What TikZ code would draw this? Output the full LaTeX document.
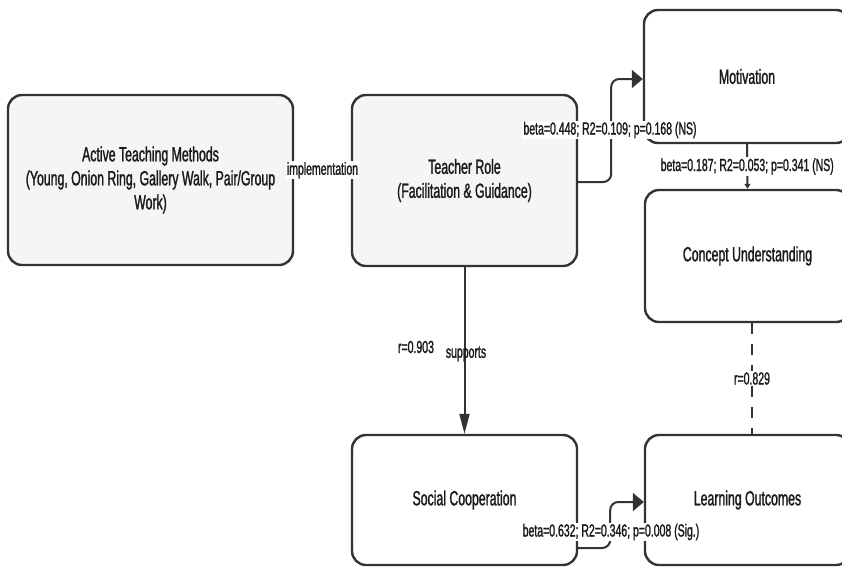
\documentclass[tikz,border=0pt]{standalone}
\usepackage{fontspec}
\setmainfont{Liberation Sans}[FakeStretch=0.6, FakeBold=1.3]
\usetikzlibrary{arrows.meta}
\definecolor{bordc}{HTML}{333333}
\definecolor{boxfill}{HTML}{F5F5F5}
\definecolor{txtc}{HTML}{1A1A1A}
\tikzset{
  box/.style={draw=bordc, line width=2.4pt, rounded corners=14pt, inner sep=0pt,
    align=center, font=\fontsize{20.5}{24}\selectfont, text=txtc},
  graybox/.style={box, fill=boxfill},
  whitebox/.style={box, fill=white},
  conn/.style={draw=bordc, line width=2pt},
  lbl/.style={font=\fontsize{17.5}{20}\selectfont, text=txtc, inner sep=1pt},
  lblw/.style={lbl, fill=white},
  harrow/.style={-{Triangle[length=11pt,width=18pt]}},
  varrow/.style={-{Triangle[length=20pt,width=10pt]}},
  smallarrow/.style={-{Triangle[length=5pt,width=6pt]}},
}
\begin{document}
\begin{tikzpicture}[x=1pt,y=-1pt]
\fill[white] (0,0) rectangle (842,566);
\useasboundingbox (0,0) rectangle (842,566);

\node[graybox, minimum width=285pt, minimum height=170pt] (act) at (150.5,180)
  {Active Teaching Methods\\(Young, Onion Ring, Gallery Walk, Pair/Group\\Work)};
\node[graybox, minimum width=225pt, minimum height=171pt] (tr) at (464.5,180.5)
  {Teacher Role\\(Facilitation \& Guidance)};
\node[whitebox, minimum width=206pt, minimum height=133pt] (mot) at (747,76.5)
  {Motivation};
\node[whitebox, minimum width=205pt, minimum height=132pt] (cu) at (747.5,256)
  {Concept Understanding};
\node[whitebox, minimum width=225pt, minimum height=130pt] (sc) at (464.5,500)
  {Social Cooperation};
\node[whitebox, minimum width=205pt, minimum height=130pt] (lo) at (747.5,500)
  {Learning Outcomes};

% Active -> Teacher
\draw[conn] ([yshift=10pt]act.east) -- node[lblw] (limp) {implementation} ([yshift=10pt]tr.west);

% Teacher -> Motivation
\draw[conn, harrow, rounded corners=8pt] ([yshift=-1.5pt]tr.east) -- ++(33,0) coordinate (k1) |- ([yshift=-2.5pt]mot.west);
\node[lblw] (lmot) at (610,130) {beta=0.448; R2=0.109; p=0.168 (NS)};

% Motivation -> Concept
\draw[conn, smallarrow] (mot.south) -- node[lblw] (lcu) {beta=0.187; R2=0.053; p=0.341 (NS)} (cu.north);

% Teacher -> Social
\draw[conn, varrow] (tr.south) -- (sc.north);
\node[lbl] (lr1) at (416,347) {r=0.903};
\node[lbl] (lsup) at (466,354) {supports};

% Concept -- Learning (dashed)
\draw[conn, dash pattern=on 11pt off 10pt] ([xshift=4.5pt]cu.south) -- node[lblw] (lr2) {r=0.829} ([xshift=4.5pt]lo.north);

% Social -> Learning
\draw[conn, harrow, rounded corners=8pt] ([yshift=-48pt]sc.east) -- ++(32,0) coordinate (k2) |- ([yshift=-2pt]lo.west);
\node[lblw] (llo) at (611,532) {beta=0.632; R2=0.346; p=0.008 (Sig.)};
\end{tikzpicture}
\end{document}
